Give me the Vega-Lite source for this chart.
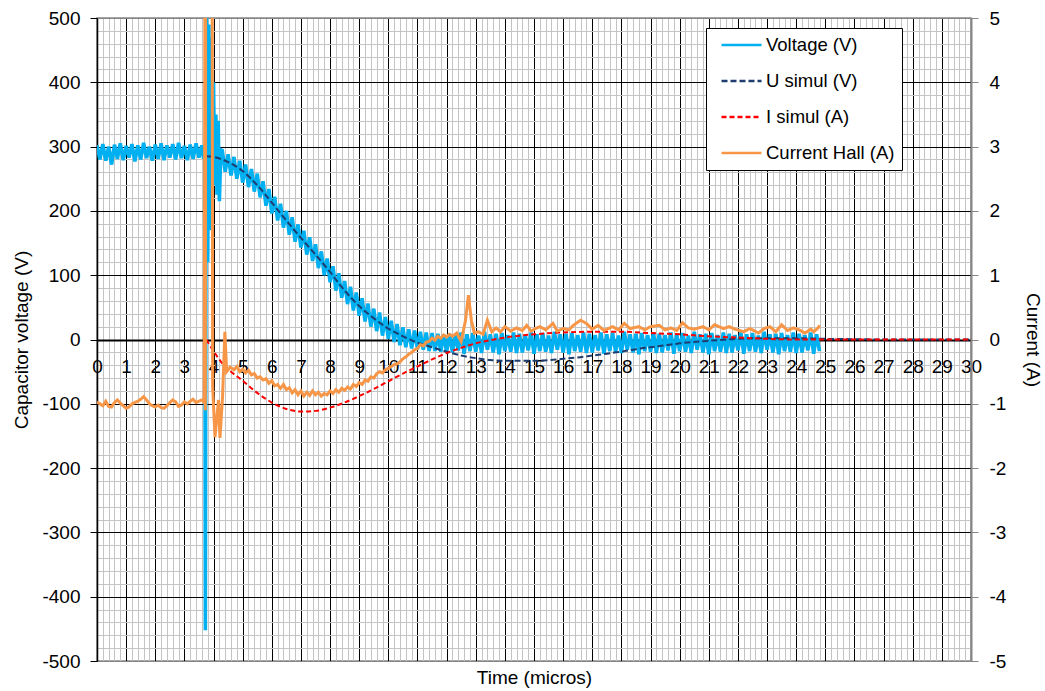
{
  "$schema": "https://vega.github.io/schema/vega-lite/v6.json",
  "width": 874,
  "height": 643,
  "autosize": {"type": "none"},
  "padding": {"left": 97, "top": 18, "right": 74, "bottom": 30},
  "background": "white",
  "config": {
    "font": "Liberation Sans",
    "view": {"stroke": "#868686", "strokeWidth": 1.5},
    "axis": {
      "labelFont": "Liberation Sans",
      "titleFont": "Liberation Sans",
      "labelFontSize": 19,
      "titleFontSize": 19,
      "labelColor": "#000",
      "titleColor": "#000",
      "titleFontWeight": "normal"
    }
  },
  "datasets": {
    "volt": [
      {"t": 0, "v": 302}, {"t": 0.1, "v": 280}, {"t": 0.2, "v": 304}, {"t": 0.3, "v": 278}, {"t": 0.4, "v": 300}, {"t": 0.5, "v": 272},
      {"t": 0.6, "v": 303}, {"t": 0.7, "v": 281}, {"t": 0.8, "v": 305}, {"t": 0.9, "v": 279}, {"t": 1.0, "v": 301}, {"t": 1.1, "v": 283},
      {"t": 1.2, "v": 304}, {"t": 1.3, "v": 277}, {"t": 1.4, "v": 302}, {"t": 1.5, "v": 280}, {"t": 1.6, "v": 306}, {"t": 1.7, "v": 282},
      {"t": 1.8, "v": 300}, {"t": 1.9, "v": 278}, {"t": 2.0, "v": 303}, {"t": 2.1, "v": 281}, {"t": 2.2, "v": 305}, {"t": 2.3, "v": 279},
      {"t": 2.4, "v": 302}, {"t": 2.5, "v": 283}, {"t": 2.6, "v": 304}, {"t": 2.7, "v": 280}, {"t": 2.8, "v": 306}, {"t": 2.9, "v": 282},
      {"t": 3.0, "v": 301}, {"t": 3.1, "v": 279}, {"t": 3.2, "v": 303}, {"t": 3.3, "v": 281}, {"t": 3.4, "v": 305}, {"t": 3.5, "v": 283},
      {"t": 3.6, "v": 302}, {"t": 3.66, "v": 281},
      {"t": 3.7, "v": 292}, {"t": 3.72, "v": -452}, {"t": 3.74, "v": 200}, {"t": 3.76, "v": 500}, {"t": 3.8, "v": 120}, {"t": 3.84, "v": 490},
      {"t": 3.88, "v": 170}, {"t": 3.92, "v": 470}, {"t": 3.96, "v": 250}, {"t": 4.0, "v": 400}, {"t": 4.04, "v": 240}, {"t": 4.08, "v": 350},
      {"t": 4.12, "v": 225}, {"t": 4.16, "v": 340}, {"t": 4.2, "v": 215}, {"t": 4.25, "v": 295},
      {"t": 4.3, "v": 294}, {"t": 4.4, "v": 261}, {"t": 4.5, "v": 288}, {"t": 4.6, "v": 255}, {"t": 4.7, "v": 284}, {"t": 4.8, "v": 250},
      {"t": 4.9, "v": 278}, {"t": 5.0, "v": 244}, {"t": 5.1, "v": 272}, {"t": 5.2, "v": 237}, {"t": 5.3, "v": 265}, {"t": 5.4, "v": 230},
      {"t": 5.5, "v": 258}, {"t": 5.6, "v": 221}, {"t": 5.7, "v": 246}, {"t": 5.8, "v": 208}, {"t": 5.9, "v": 234}, {"t": 6.0, "v": 196},
      {"t": 6.1, "v": 222}, {"t": 6.2, "v": 185}, {"t": 6.3, "v": 211}, {"t": 6.4, "v": 174}, {"t": 6.5, "v": 200}, {"t": 6.6, "v": 163},
      {"t": 6.7, "v": 190}, {"t": 6.8, "v": 152}, {"t": 6.9, "v": 179}, {"t": 7.0, "v": 143}, {"t": 7.1, "v": 169}, {"t": 7.2, "v": 132},
      {"t": 7.3, "v": 159}, {"t": 7.4, "v": 122}, {"t": 7.5, "v": 148}, {"t": 7.6, "v": 111}, {"t": 7.7, "v": 137}, {"t": 7.8, "v": 100},
      {"t": 7.9, "v": 126}, {"t": 8.0, "v": 89}, {"t": 8.1, "v": 114}, {"t": 8.2, "v": 76}, {"t": 8.3, "v": 103}, {"t": 8.4, "v": 65},
      {"t": 8.5, "v": 91}, {"t": 8.6, "v": 55}, {"t": 8.7, "v": 82}, {"t": 8.8, "v": 45}, {"t": 8.9, "v": 73}, {"t": 9.0, "v": 37},
      {"t": 9.1, "v": 64}, {"t": 9.2, "v": 28}, {"t": 9.3, "v": 56}, {"t": 9.4, "v": 20}, {"t": 9.5, "v": 48}, {"t": 9.6, "v": 13},
      {"t": 9.7, "v": 42}, {"t": 9.8, "v": 6}, {"t": 9.9, "v": 35}, {"t": 10.0, "v": 1}, {"t": 10.1, "v": 29}, {"t": 10.2, "v": -4},
      {"t": 10.3, "v": 24}, {"t": 10.4, "v": -9}, {"t": 10.5, "v": 19}, {"t": 10.6, "v": -12}, {"t": 10.7, "v": 16}, {"t": 10.8, "v": -14},
      {"t": 10.9, "v": 14}, {"t": 11.0, "v": -15}, {"t": 11.1, "v": 12}, {"t": 11.2, "v": -16}, {"t": 11.3, "v": 11}, {"t": 11.4, "v": -18},
      {"t": 11.5, "v": 10}, {"t": 11.6, "v": -18}, {"t": 11.7, "v": 9}, {"t": 11.8, "v": -19}, {"t": 11.9, "v": 8}, {"t": 12.0, "v": -20},
      {"t": 12.1, "v": 9}, {"t": 12.2, "v": -20}, {"t": 12.3, "v": 7}, {"t": 12.4, "v": -17}, {"t": 12.5, "v": 11}, {"t": 12.6, "v": -22},
      {"t": 12.7, "v": 8}, {"t": 12.8, "v": -18}, {"t": 12.9, "v": 10}, {"t": 13.0, "v": -19}, {"t": 13.1, "v": 6}, {"t": 13.2, "v": -21},
      {"t": 13.3, "v": 12}, {"t": 13.4, "v": -16}, {"t": 13.5, "v": 8}, {"t": 13.6, "v": -20}, {"t": 13.7, "v": 9}, {"t": 13.8, "v": -23},
      {"t": 13.9, "v": 10}, {"t": 14.0, "v": -18}, {"t": 14.1, "v": 7}, {"t": 14.2, "v": -19}, {"t": 14.3, "v": 11}, {"t": 14.4, "v": -21},
      {"t": 14.5, "v": 9}, {"t": 14.6, "v": -20}, {"t": 14.7, "v": 7}, {"t": 14.8, "v": -17}, {"t": 14.9, "v": 11}, {"t": 15.0, "v": -22},
      {"t": 15.1, "v": 8}, {"t": 15.2, "v": -18}, {"t": 15.3, "v": 10}, {"t": 15.4, "v": -19}, {"t": 15.5, "v": 6}, {"t": 15.6, "v": -21},
      {"t": 15.7, "v": 12}, {"t": 15.8, "v": -16}, {"t": 15.9, "v": 8}, {"t": 16.0, "v": -20}, {"t": 16.1, "v": 9}, {"t": 16.2, "v": -23},
      {"t": 16.3, "v": 10}, {"t": 16.4, "v": -18}, {"t": 16.5, "v": 7}, {"t": 16.6, "v": -19}, {"t": 16.7, "v": 11}, {"t": 16.8, "v": -21},
      {"t": 16.9, "v": 9}, {"t": 17.0, "v": -20}, {"t": 17.1, "v": 7}, {"t": 17.2, "v": -17}, {"t": 17.3, "v": 11}, {"t": 17.4, "v": -22},
      {"t": 17.5, "v": 8}, {"t": 17.6, "v": -18}, {"t": 17.7, "v": 10}, {"t": 17.8, "v": -19}, {"t": 17.9, "v": 6}, {"t": 18.0, "v": -21},
      {"t": 18.1, "v": 12}, {"t": 18.2, "v": -16}, {"t": 18.3, "v": 8}, {"t": 18.4, "v": -20}, {"t": 18.5, "v": 9}, {"t": 18.6, "v": -23},
      {"t": 18.7, "v": 10}, {"t": 18.8, "v": -18}, {"t": 18.9, "v": 7}, {"t": 19.0, "v": -19}, {"t": 19.1, "v": 11}, {"t": 19.2, "v": -21},
      {"t": 19.3, "v": 9}, {"t": 19.4, "v": -20}, {"t": 19.5, "v": 7}, {"t": 19.6, "v": -17}, {"t": 19.7, "v": 11}, {"t": 19.8, "v": -22},
      {"t": 19.9, "v": 8}, {"t": 20.0, "v": -18}, {"t": 20.1, "v": 10}, {"t": 20.2, "v": -19}, {"t": 20.3, "v": 6}, {"t": 20.4, "v": -21},
      {"t": 20.5, "v": 12}, {"t": 20.6, "v": -16}, {"t": 20.7, "v": 8}, {"t": 20.8, "v": -20}, {"t": 20.9, "v": 9}, {"t": 21.0, "v": -23},
      {"t": 21.1, "v": 10}, {"t": 21.2, "v": -18}, {"t": 21.3, "v": 7}, {"t": 21.4, "v": -19}, {"t": 21.5, "v": 11}, {"t": 21.6, "v": -21},
      {"t": 21.7, "v": 9}, {"t": 21.8, "v": -20}, {"t": 21.9, "v": 7}, {"t": 22.0, "v": -17}, {"t": 22.1, "v": 11}, {"t": 22.2, "v": -22},
      {"t": 22.3, "v": 8}, {"t": 22.4, "v": -18}, {"t": 22.5, "v": 10}, {"t": 22.6, "v": -19}, {"t": 22.7, "v": 6}, {"t": 22.8, "v": -21},
      {"t": 22.9, "v": 12}, {"t": 23.0, "v": -16}, {"t": 23.1, "v": 8}, {"t": 23.2, "v": -20}, {"t": 23.3, "v": 9}, {"t": 23.4, "v": -23},
      {"t": 23.5, "v": 10}, {"t": 23.6, "v": -18}, {"t": 23.7, "v": 7}, {"t": 23.8, "v": -19}, {"t": 23.9, "v": 11}, {"t": 24.0, "v": -21},
      {"t": 24.1, "v": 9}, {"t": 24.2, "v": -20}, {"t": 24.3, "v": 7}, {"t": 24.4, "v": -17}, {"t": 24.5, "v": 11}, {"t": 24.6, "v": -22},
      {"t": 24.7, "v": 8}, {"t": 24.8, "v": -18}
    ],
    "usim": [
      {"t": 3.75, "v": 285}, {"t": 4.0, "v": 284}, {"t": 4.5, "v": 276}, {"t": 5.0, "v": 262}, {"t": 5.5, "v": 240}, {"t": 6.0, "v": 213},
      {"t": 6.5, "v": 185}, {"t": 7.0, "v": 158}, {"t": 7.5, "v": 132}, {"t": 8.0, "v": 105}, {"t": 8.5, "v": 76}, {"t": 9.0, "v": 52},
      {"t": 9.5, "v": 33}, {"t": 10.0, "v": 17}, {"t": 10.5, "v": 5}, {"t": 11.0, "v": -5}, {"t": 11.5, "v": -12}, {"t": 12.0, "v": -19},
      {"t": 12.5, "v": -25}, {"t": 13.0, "v": -29}, {"t": 13.5, "v": -32}, {"t": 14.0, "v": -33}, {"t": 14.5, "v": -33}, {"t": 15.0, "v": -33},
      {"t": 15.5, "v": -32}, {"t": 16.0, "v": -30}, {"t": 16.5, "v": -28}, {"t": 17.0, "v": -25}, {"t": 17.5, "v": -22}, {"t": 18.0, "v": -19},
      {"t": 18.5, "v": -15}, {"t": 19.0, "v": -12}, {"t": 19.5, "v": -9}, {"t": 20.0, "v": -6}, {"t": 21.0, "v": -2}, {"t": 22.0, "v": 1},
      {"t": 23.0, "v": 2}, {"t": 24.0, "v": 2}, {"t": 25.0, "v": 1}, {"t": 26.0, "v": 0.5}, {"t": 27.0, "v": 0}, {"t": 30.0, "v": 0}
    ],
    "isim": [
      {"t": 3.75, "v": 0}, {"t": 4.0, "v": -0.18}, {"t": 4.3, "v": -0.37}, {"t": 4.6, "v": -0.5}, {"t": 5.0, "v": -0.64}, {"t": 5.5, "v": -0.83},
      {"t": 6.0, "v": -0.98}, {"t": 6.5, "v": -1.08}, {"t": 7.0, "v": -1.12}, {"t": 7.5, "v": -1.11}, {"t": 8.0, "v": -1.06}, {"t": 8.5, "v": -0.98},
      {"t": 9.0, "v": -0.88}, {"t": 9.5, "v": -0.77}, {"t": 10.0, "v": -0.65}, {"t": 10.5, "v": -0.53}, {"t": 11.0, "v": -0.42}, {"t": 11.5, "v": -0.31},
      {"t": 12.0, "v": -0.21}, {"t": 12.5, "v": -0.13}, {"t": 13.0, "v": -0.06}, {"t": 13.5, "v": -0.01}, {"t": 14.0, "v": 0.03}, {"t": 14.5, "v": 0.06},
      {"t": 15.0, "v": 0.08}, {"t": 16.0, "v": 0.11}, {"t": 17.0, "v": 0.12}, {"t": 18.0, "v": 0.12}, {"t": 19.0, "v": 0.1}, {"t": 20.0, "v": 0.08},
      {"t": 21.0, "v": 0.05}, {"t": 22.0, "v": 0.03}, {"t": 23.0, "v": 0.01}, {"t": 24.0, "v": 0}, {"t": 30.0, "v": 0}
    ],
    "hall": [
      {"t": 0, "v": -0.97}, {"t": 0.1, "v": -1.0}, {"t": 0.2, "v": -1.03}, {"t": 0.3, "v": -0.96}, {"t": 0.4, "v": -1.04}, {"t": 0.5, "v": -1.05},
      {"t": 0.6, "v": -0.98}, {"t": 0.7, "v": -0.94}, {"t": 0.8, "v": -0.99}, {"t": 0.9, "v": -1.03}, {"t": 1.0, "v": -1.07}, {"t": 1.1, "v": -1.05},
      {"t": 1.2, "v": -1.0}, {"t": 1.3, "v": -0.98}, {"t": 1.4, "v": -0.96}, {"t": 1.5, "v": -0.93}, {"t": 1.6, "v": -0.89}, {"t": 1.7, "v": -0.94},
      {"t": 1.8, "v": -1.0}, {"t": 1.9, "v": -1.03}, {"t": 2.0, "v": -1.05}, {"t": 2.1, "v": -1.02}, {"t": 2.2, "v": -1.06}, {"t": 2.3, "v": -1.07},
      {"t": 2.4, "v": -1.03}, {"t": 2.5, "v": -0.98}, {"t": 2.6, "v": -0.94}, {"t": 2.7, "v": -0.97}, {"t": 2.8, "v": -1.04}, {"t": 2.9, "v": -1.02},
      {"t": 3.0, "v": -0.97}, {"t": 3.1, "v": -1.0}, {"t": 3.2, "v": -0.96}, {"t": 3.3, "v": -0.93}, {"t": 3.4, "v": -0.98}, {"t": 3.5, "v": -0.96},
      {"t": 3.6, "v": -0.94}, {"t": 3.68, "v": -0.98},
      {"t": 3.71, "v": 7}, {"t": 3.72, "v": -1.1}, {"t": 3.73, "v": 7}, {"t": 3.95, "v": 7}, {"t": 3.97, "v": -0.73}, {"t": 4.05, "v": -1.52},
      {"t": 4.17, "v": -0.94}, {"t": 4.22, "v": -1.53}, {"t": 4.31, "v": -0.89}, {"t": 4.39, "v": 0.12}, {"t": 4.45, "v": -0.5}, {"t": 4.57, "v": -0.43},
      {"t": 4.7, "v": -0.47}, {"t": 4.8, "v": -0.42}, {"t": 4.9, "v": -0.5}, {"t": 5.0, "v": -0.46}, {"t": 5.1, "v": -0.52}, {"t": 5.2, "v": -0.48},
      {"t": 5.3, "v": -0.55}, {"t": 5.4, "v": -0.53}, {"t": 5.5, "v": -0.6}, {"t": 5.6, "v": -0.58}, {"t": 5.7, "v": -0.63}, {"t": 5.8, "v": -0.61},
      {"t": 5.9, "v": -0.68}, {"t": 6.0, "v": -0.64}, {"t": 6.1, "v": -0.72}, {"t": 6.2, "v": -0.7}, {"t": 6.3, "v": -0.76}, {"t": 6.4, "v": -0.7},
      {"t": 6.5, "v": -0.78}, {"t": 6.6, "v": -0.75}, {"t": 6.7, "v": -0.83}, {"t": 6.8, "v": -0.78}, {"t": 6.9, "v": -0.86}, {"t": 7.0, "v": -0.8},
      {"t": 7.1, "v": -0.88}, {"t": 7.2, "v": -0.82}, {"t": 7.3, "v": -0.87}, {"t": 7.4, "v": -0.8}, {"t": 7.5, "v": -0.86}, {"t": 7.6, "v": -0.82},
      {"t": 7.7, "v": -0.88}, {"t": 7.8, "v": -0.84}, {"t": 7.9, "v": -0.86}, {"t": 8.0, "v": -0.8}, {"t": 8.1, "v": -0.84}, {"t": 8.2, "v": -0.78},
      {"t": 8.3, "v": -0.82}, {"t": 8.4, "v": -0.76}, {"t": 8.5, "v": -0.79}, {"t": 8.6, "v": -0.74}, {"t": 8.7, "v": -0.77}, {"t": 8.8, "v": -0.7},
      {"t": 8.9, "v": -0.73}, {"t": 9.0, "v": -0.67}, {"t": 9.1, "v": -0.7}, {"t": 9.2, "v": -0.63}, {"t": 9.3, "v": -0.65}, {"t": 9.4, "v": -0.58},
      {"t": 9.5, "v": -0.6}, {"t": 9.6, "v": -0.53}, {"t": 9.7, "v": -0.5}, {"t": 9.8, "v": -0.52}, {"t": 9.9, "v": -0.47}, {"t": 10.0, "v": -0.45},
      {"t": 10.1, "v": -0.42}, {"t": 10.2, "v": -0.39}, {"t": 10.3, "v": -0.38}, {"t": 10.4, "v": -0.35}, {"t": 10.5, "v": -0.3}, {"t": 10.6, "v": -0.27},
      {"t": 10.7, "v": -0.23}, {"t": 10.8, "v": -0.2}, {"t": 10.9, "v": -0.16}, {"t": 11.0, "v": -0.14}, {"t": 11.1, "v": -0.08}, {"t": 11.2, "v": -0.1},
      {"t": 11.3, "v": -0.04}, {"t": 11.4, "v": -0.03}, {"t": 11.5, "v": 0.02}, {"t": 11.6, "v": -0.01}, {"t": 11.7, "v": 0.05}, {"t": 11.8, "v": 0.02},
      {"t": 11.9, "v": 0.07}, {"t": 12.0, "v": 0.04}, {"t": 12.1, "v": 0.08}, {"t": 12.2, "v": 0.05}, {"t": 12.35, "v": 0.1}, {"t": 12.5, "v": -0.03},
      {"t": 12.65, "v": 0.3}, {"t": 12.75, "v": 0.69}, {"t": 12.85, "v": 0.3}, {"t": 12.95, "v": 0.1}, {"t": 13.1, "v": 0.12}, {"t": 13.25, "v": 0.08},
      {"t": 13.4, "v": 0.3}, {"t": 13.55, "v": 0.12}, {"t": 13.7, "v": 0.18}, {"t": 13.85, "v": 0.12}, {"t": 14.0, "v": 0.2}, {"t": 14.2, "v": 0.13},
      {"t": 14.4, "v": 0.18}, {"t": 14.6, "v": 0.14}, {"t": 14.75, "v": 0.22}, {"t": 14.9, "v": 0.13}, {"t": 15.05, "v": 0.17}, {"t": 15.2, "v": 0.2},
      {"t": 15.4, "v": 0.15}, {"t": 15.65, "v": 0.25}, {"t": 15.8, "v": 0.13}, {"t": 16.0, "v": 0.17}, {"t": 16.2, "v": 0.15}, {"t": 16.35, "v": 0.22},
      {"t": 16.6, "v": 0.3}, {"t": 16.8, "v": 0.25}, {"t": 17.0, "v": 0.16}, {"t": 17.2, "v": 0.22}, {"t": 17.4, "v": 0.14}, {"t": 17.7, "v": 0.2},
      {"t": 17.9, "v": 0.15}, {"t": 18.1, "v": 0.25}, {"t": 18.3, "v": 0.17}, {"t": 18.6, "v": 0.2}, {"t": 18.8, "v": 0.15}, {"t": 19.0, "v": 0.2},
      {"t": 19.3, "v": 0.22}, {"t": 19.5, "v": 0.15}, {"t": 19.7, "v": 0.18}, {"t": 19.9, "v": 0.14}, {"t": 20.1, "v": 0.26}, {"t": 20.3, "v": 0.18},
      {"t": 20.5, "v": 0.16}, {"t": 20.8, "v": 0.2}, {"t": 21.0, "v": 0.15}, {"t": 21.2, "v": 0.23}, {"t": 21.5, "v": 0.17}, {"t": 21.7, "v": 0.2},
      {"t": 21.9, "v": 0.16}, {"t": 22.2, "v": 0.12}, {"t": 22.4, "v": 0.17}, {"t": 22.5, "v": 0.15}, {"t": 22.7, "v": 0.1}, {"t": 22.9, "v": 0.17},
      {"t": 23.1, "v": 0.2}, {"t": 23.3, "v": 0.12}, {"t": 23.5, "v": 0.23}, {"t": 23.7, "v": 0.14}, {"t": 23.9, "v": 0.18}, {"t": 24.1, "v": 0.15},
      {"t": 24.3, "v": 0.1}, {"t": 24.5, "v": 0.16}, {"t": 24.6, "v": 0.12}, {"t": 24.75, "v": 0.18}, {"t": 24.8, "v": 0.22}
    ]
  },
  "layer": [
    {
      "data": {"name": "volt"},
      "mark": {"type": "line", "strokeWidth": 3.6, "clip": true},
      "encoding": {
        "x": {
          "field": "t", "type": "quantitative",
          "scale": {"domain": [0, 30], "nice": false, "zero": false},
          "axis": {"orient": "bottom", "tickCount": 150, "labels": false, "ticks": false, "domain": false, "title": null, "grid": true, "gridColor": "#c4c4c4", "gridWidth": 1}
        },
        "y": {
          "field": "v", "type": "quantitative",
          "scale": {"domain": [-500, 500], "nice": false},
          "axis": {"orient": "left", "tickCount": 50, "labels": false, "ticks": false, "domain": false, "title": null, "grid": true, "gridColor": "#c4c4c4", "gridWidth": 1}
        },
        "color": {
          "datum": "Voltage (V)", "type": "nominal",
          "scale": {"domain": ["Voltage (V)", "U simul (V)", "I simul (A)", "Current Hall (A)"], "range": ["#00b0f0", "#1f3c6e", "#ff0000", "#f79646"]},
          "legend": {
            "title": null, "orient": "none", "legendX": 609, "legendY": 10,
            "strokeColor": "#000", "fillColor": "#fff", "padding": 7, "clipHeight": 20,
            "symbolType": "stroke", "symbolSize": 1600, "symbolStrokeWidth": 2.5, "symbolOffset": 7,
            "labelFontSize": 18.5, "labelFont": "Liberation Sans", "labelColor": "#000",
            "rowPadding": 16, "labelOffset": 3
          }
        },
        "strokeDash": {
          "datum": "Voltage (V)", "type": "nominal",
          "scale": {"domain": ["Voltage (V)", "U simul (V)", "I simul (A)", "Current Hall (A)"], "range": [[1, 0], [6, 3], [5, 3], [1, 0]]}
        }
      }
    },
    {
      "data": {"name": "usim"},
      "mark": {"type": "line", "strokeWidth": 2, "clip": true, "interpolate": "monotone"},
      "encoding": {
        "x": {
          "field": "t", "type": "quantitative",
          "axis": {"orient": "bottom", "values": [1, 2, 3, 4, 5, 6, 7, 8, 9, 10, 11, 12, 13, 14, 15, 16, 17, 18, 19, 20, 21, 22, 23, 24, 25, 26, 27, 28, 29], "labels": false, "ticks": false, "domain": false, "title": null, "grid": true, "gridColor": "#000", "gridWidth": 1}
        },
        "y": {
          "field": "v", "type": "quantitative",
          "scale": {"domain": [-500, 500], "nice": false},
          "axis": {
            "orient": "left", "values": [-500, -400, -300, -200, -100, 0, 100, 200, 300, 400, 500],
            "labelExpr": "datum.value + ''",
            "tickSize": 7, "tickColor": "#000", "domainColor": "#000", "domainWidth": 1.5,
            "labelPadding": 10, "title": "Capacitor voltage (V)", "titlePadding": 10,
            "grid": true, "gridWidth": 1,
            "gridColor": {"condition": {"test": "abs(datum.value) == 500", "value": "#868686"}, "value": "#000"}
          }
        },
        "color": {"datum": "U simul (V)", "type": "nominal"},
        "strokeDash": {"datum": "U simul (V)", "type": "nominal"}
      }
    },
    {
      "data": {"name": "isim"},
      "mark": {"type": "line", "strokeWidth": 2, "clip": true, "interpolate": "monotone"},
      "encoding": {
        "x": {
          "field": "t", "type": "quantitative",
          "axis": {
            "orient": "bottom", "offset": -321, "values": [0, 1, 2, 3, 4, 5, 6, 7, 8, 9, 10, 11, 12, 13, 14, 15, 16, 17, 18, 19, 20, 21, 22, 23, 24, 25, 26, 27, 28, 29, 30],
            "labelExpr": "datum.value + ''", "ticks": false, "labelPadding": 17, "labelFlush": false, "labelOverlap": false,
            "domainColor": "#000", "domainWidth": 2, "grid": false,
            "title": "Time (micros)", "titleY": 328
          }
        },
        "y": {
          "field": "v", "type": "quantitative",
          "scale": {"domain": [-5, 5], "nice": false},
          "axis": {
            "orient": "right", "values": [-5, -4, -3, -2, -1, 0, 1, 2, 3, 4, 5],
            "labelExpr": "datum.value + ''",
            "tickSize": 7, "tickColor": "#868686", "domainColor": "#868686", "domainWidth": 2,
            "labelPadding": 11, "title": "Current (A)", "titlePadding": 17, "grid": false
          }
        },
        "color": {"datum": "I simul (A)", "type": "nominal"},
        "strokeDash": {"datum": "I simul (A)", "type": "nominal"}
      }
    },
    {
      "data": {"name": "hall"},
      "mark": {"type": "line", "strokeWidth": 3, "clip": true},
      "encoding": {
        "x": {"field": "t", "type": "quantitative", "axis": null},
        "y": {"field": "v", "type": "quantitative", "scale": {"domain": [-5, 5], "nice": false}, "axis": null},
        "color": {"datum": "Current Hall (A)", "type": "nominal"},
        "strokeDash": {"datum": "Current Hall (A)", "type": "nominal"}
      }
    }
  ],
  "resolve": {"scale": {"y": "independent"}, "axis": {"x": "independent", "y": "independent"}}
}
